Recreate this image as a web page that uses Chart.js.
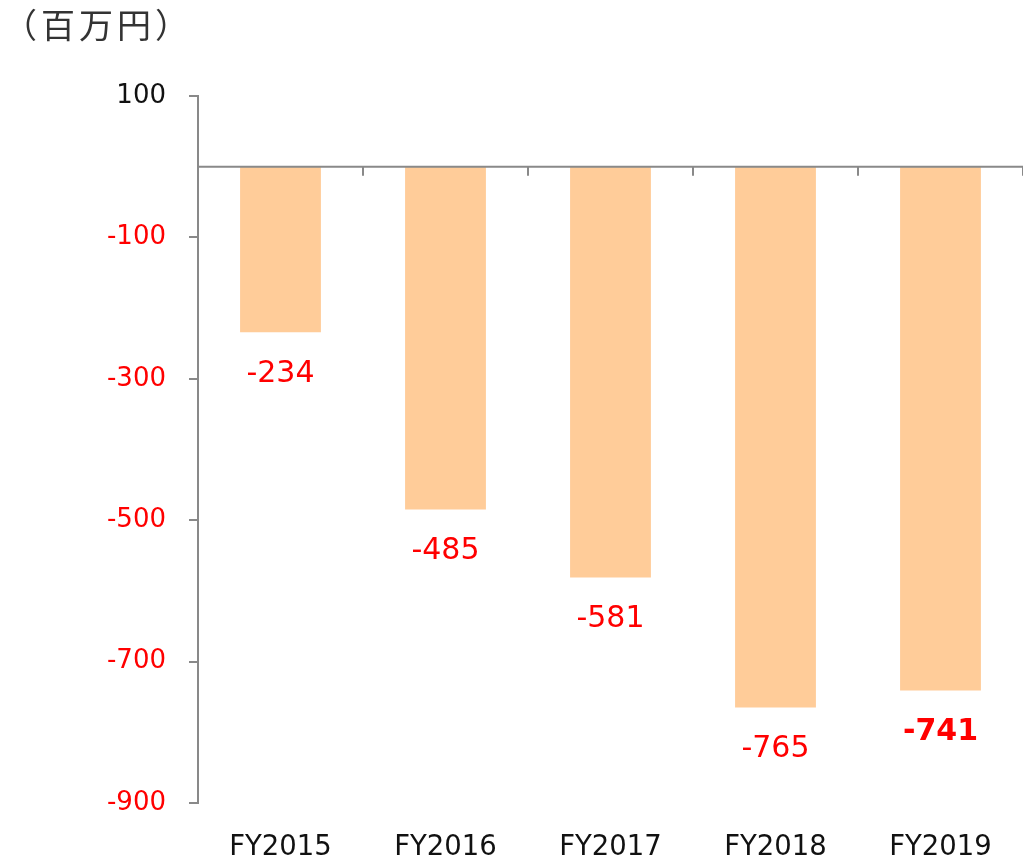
<!DOCTYPE html>
<html>
<head>
<meta charset="utf-8">
<script src="https://cdn.jsdelivr.net/npm/chart.js@4.4.1/dist/chart.umd.min.js"></script>
<style>
  body { margin: 0; background: #fff; }
  #wrap { position: relative; width: 1023px; height: 858px; }
</style>
</head>
<body>
<div id="wrap">
  <canvas id="chart"></canvas>
</div>
<script>
// データ
const categories = ["FY2015", "FY2016", "FY2017", "FY2018", "FY2019"];
const values = [-234, -485, -581, -765, -741];
const yTicks = [100, -100, -300, -500, -700, -900];
const unitLabel = "（百万円）";

const axisColor = "#898989";
const labelFont = "'DejaVu Sans', Verdana, sans-serif";

// 単位表示
const unitTitle = {
  id: "unitTitle",
  afterDraw(chart) {
    const { ctx } = chart;
    ctx.save();
    ctx.fillStyle = "#333";
    ctx.font = "34px 'Noto Sans CJK JP'";
    ctx.letterSpacing = "4px";
    ctx.textAlign = "left";
    ctx.textBaseline = "alphabetic";
    ctx.fillText(unitLabel, 3, 38);
    ctx.restore();
  }
};

// ゼロ線と区切りの目盛り
const zeroLine = {
  id: "zeroLine",
  afterDatasetsDraw(chart) {
    const { ctx, chartArea, scales } = chart;
    const y0 = scales.y.getPixelForValue(0);
    const n = categories.length;
    const step = scales.x.width / n;
    ctx.save();
    ctx.strokeStyle = axisColor;
    ctx.lineWidth = 2;
    ctx.beginPath();
    ctx.moveTo(chartArea.left, y0);
    ctx.lineTo(chartArea.right, y0);
    for (let i = 1; i <= n; i++) {
      const x = Math.round(scales.x.left + i * step);
      ctx.moveTo(x, y0);
      ctx.lineTo(x, y0 + 9);
    }
    ctx.stroke();
    ctx.restore();
  }
};

// 値ラベル
const valueLabels = {
  id: "valueLabels",
  afterDatasetsDraw(chart) {
    const { ctx } = chart;
    const meta = chart.getDatasetMeta(0);
    ctx.save();
    ctx.fillStyle = "#FF0000";
    ctx.textAlign = "center";
    ctx.textBaseline = "middle";
    meta.data.forEach((bar, i) => {
      const last = i === values.length - 1;
      ctx.font = (last ? "bold " : "") + "30px " + labelFont;
      ctx.fillText(values[i], bar.x, bar.y + 42);
    });
    ctx.restore();
  }
};

new Chart(document.getElementById("chart"), {
  type: "bar",
  data: {
    labels: categories,
    datasets: [{
      data: values,
      backgroundColor: "#FFCC99",
      categoryPercentage: 1,
      barPercentage: 0.49
    }]
  },
  options: {
    responsive: true,
    maintainAspectRatio: false,
    animation: false,
    layout: { padding: { top: 96, left: 0, right: 0, bottom: 0 } },
    plugins: {
      legend: { display: false },
      tooltip: { enabled: false }
    },
    scales: {
      x: {
        grid: { display: false },
        border: { display: false },
        ticks: {
          padding: 20,
          color: "#111",
          font: { family: labelFont, size: 27.5 },
          maxRotation: 0
        },
        afterFit(scale) { scale.height = 55; }
      },
      y: {
        min: -900,
        max: 100,
        afterBuildTicks(scale) {
          scale.ticks = yTicks.map(v => ({ value: v }));
        },
        grid: {
          drawOnChartArea: false,
          color: axisColor,
          lineWidth: 2,
          tickLength: 9
        },
        border: { color: axisColor, width: 2 },
        ticks: {
          padding: 23,
          font: { family: labelFont, size: 26 },
          color: ctx => (ctx.tick && ctx.tick.value < 0 ? "#FF0000" : "#111")
        },
        afterFit(scale) { scale.width = 198; }
      }
    }
  },
  plugins: [zeroLine, valueLabels, unitTitle]
});
</script>
</body>
</html>
